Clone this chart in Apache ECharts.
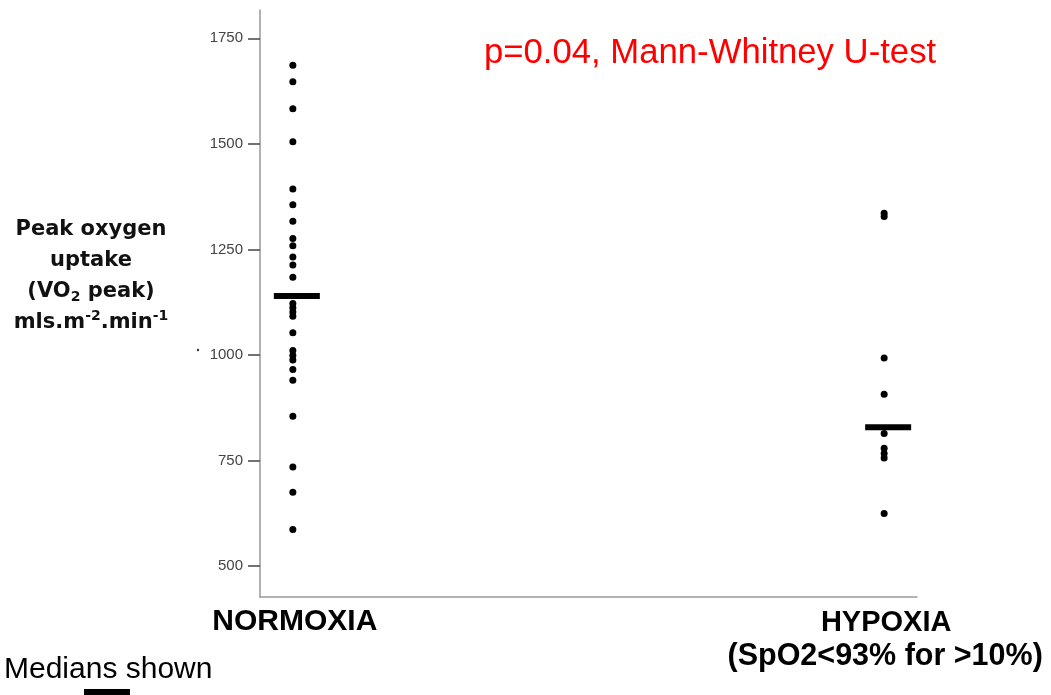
<!DOCTYPE html>
<html>
<head>
<meta charset="utf-8">
<script src="https://cdn.jsdelivr.net/npm/echarts@6/dist/echarts.min.js"></script>
<style>
html,body{margin:0;padding:0;background:#fff;}
#main{width:1051px;height:695px;}
</style>
</head>
<body>
<div id="main"></div>
<script>
// 数据
var groups = ['NORMOXIA', 'HYPOXIA'];
var groupX = [1, 19];
var normoxia = [1686, 1647, 1583, 1505, 1393, 1356, 1317, 1276, 1259, 1232, 1213, 1184,
    1122, 1112, 1102, 1092, 1053, 1011, 999, 988, 966, 940, 855, 735, 675, 587];
var hypoxia = [1336, 1328, 993, 907, 814, 779, 767, 756, 625];
var medians = [1140, 829];
var yTicks = [500, 750, 1000, 1250, 1500, 1750];

var myChart = echarts.init(document.getElementById('main'));

var option = {
    animation: false,
    backgroundColor: '#fff',
    title: {
        text: 'p=0.04, Mann-Whitney U-test',
        left: 479,
        top: 31,
        textStyle: {
            color: '#f00',
            fontSize: 34.7,
            fontWeight: 'normal',
            fontFamily: 'Liberation Sans'
        }
    },
    grid: {
        left: 260,
        top: 10,
        right: 134,
        bottom: 98
    },
    xAxis: {
        type: 'value',
        min: 0,
        max: 20,
        splitLine: {show: false},
        axisLine: {lineStyle: {color: '#999', width: 1.5}},
        axisTick: {show: false},
        axisLabel: {
            customValues: groupX,
            margin: 10,
            fontFamily: 'Liberation Sans',
            formatter: function (v) {
                if (v === groupX[0]) return '{n|' + groups[0] + '}';
                return '{h|' + groups[1] + '}\n{s|(SpO2<93% for >10%)}';
            },
            rich: {
                n: {fontSize: 30, fontWeight: 'bold', color: '#000', lineHeight: 30, fontFamily: 'Liberation Sans', padding: [0, 0, 0, 4]},
                h: {fontSize: 29, fontWeight: 'bold', color: '#000', lineHeight: 32, fontFamily: 'Liberation Sans', padding: [0, 0, 0, 4]},
                s: {fontSize: 30.5, fontWeight: 'bold', color: '#000', lineHeight: 36, fontFamily: 'Liberation Sans', padding: [0, 0, 0, 2]}
            }
        }
    },
    yAxis: {
        type: 'value',
        min: 427,
        max: 1817,
        splitLine: {show: false},
        axisLine: {show: true, lineStyle: {color: '#999', width: 1.5}},
        axisTick: {
            show: true,
            customValues: yTicks,
            length: 12,
            lineStyle: {color: '#444', width: 1.5}
        },
        axisLabel: {
            customValues: yTicks,
            margin: 17,
            color: '#444',
            fontSize: 15,
            fontFamily: 'Liberation Sans',
            formatter: function (v) { return String(v); }
        }
    },
    graphic: [
        {
            type: 'text',
            x: 91,
            y: 276,
            style: {
                text: '{b|Peak oxygen}\n{b|uptake}\n{b|(VO}{sub|2}{b| peak)}\n{b|mls.m}{sup|-2}{b|.min}{sup|-1}',
                align: 'center',
                verticalAlign: 'middle',
                rich: {
                    b: {fontSize: 21, fontWeight: 'bold', fill: '#111', lineHeight: 31, fontFamily: 'DejaVu Sans'},
                    sub: {fontSize: 14, fontWeight: 'bold', fill: '#111', lineHeight: 31, padding: [12, 0, 0, 0], fontFamily: 'DejaVu Sans'},
                    sup: {fontSize: 14, fontWeight: 'bold', fill: '#111', lineHeight: 31, padding: [0, 0, 12, 0], fontFamily: 'DejaVu Sans'}
                }
            }
        },
        {
            type: 'circle',
            shape: {cx: 198, cy: 350, r: 1.2},
            style: {fill: '#333'}
        },
        {
            type: 'text',
            x: 4,
            y: 670,
            style: {
                text: 'Medians shown',
                fontSize: 30,
                fontFamily: 'Liberation Sans',
                fill: '#000',
                verticalAlign: 'middle'
            }
        },
        {
            type: 'rect',
            shape: {x: 84, y: 689, width: 46, height: 12},
            style: {fill: '#000'}
        }
    ],
    series: [
        {
            name: groups[0],
            type: 'scatter',
            symbol: 'circle',
            symbolSize: 7,
            itemStyle: {color: '#000', opacity: 1},
            data: normoxia.map(function (v) { return [groupX[0], v]; })
        },
        {
            name: groups[1],
            type: 'scatter',
            symbol: 'circle',
            symbolSize: 7,
            itemStyle: {color: '#000', opacity: 1},
            data: hypoxia.map(function (v) { return [groupX[1], v]; })
        },
        {
            name: 'Median',
            type: 'scatter',
            symbol: 'rect',
            symbolSize: [46, 6],
            symbolOffset: [4, 0],
            itemStyle: {color: '#000', opacity: 1},
            z: 5,
            data: medians.map(function (v, i) { return [groupX[i], v]; })
        }
    ]
};

myChart.setOption(option);
</script>
</body>
</html>
